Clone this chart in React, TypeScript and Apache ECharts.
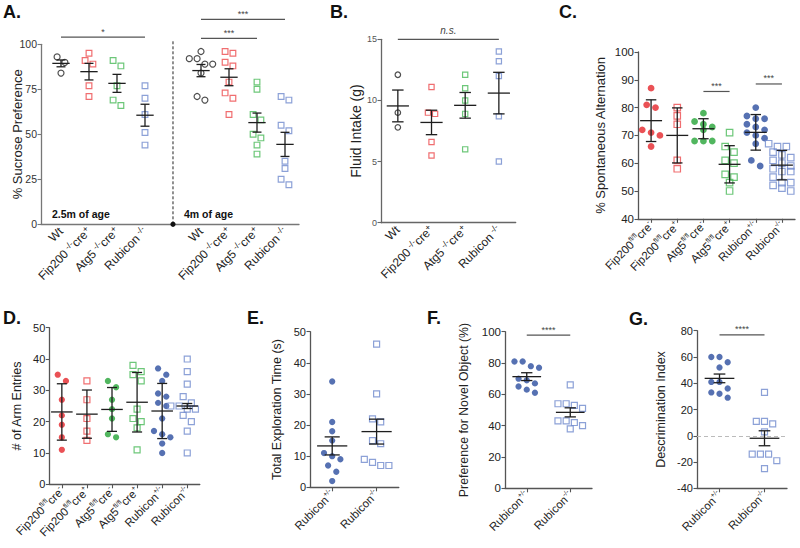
import React, { useEffect, useRef } from 'react';
import * as echarts from 'echarts';

const FONT = '"Liberation Sans", Arial, Helvetica, sans-serif';

// ---------- Panel A : % Sucrose Preference ----------
const aCategories = ['Wt', 'Fip200^{ -/-}cre^{+}', 'Atg5^{ -/-}cre^{+}', 'Rubicon^{ -/-}', '', 'Wt', 'Fip200^{ -/-}cre^{+}', 'Atg5^{ -/-}cre^{+}', 'Rubicon^{ -/-}'];
const aWt25 = [93, 90, 84];
const aFip25 = [95, 91, 89, 77, 71];
const aAtg25 = [91, 88, 77, 69, 66];
const aRub25 = [77, 70, 61, 51, 44];
const aWt4 = [96, 92, 92, 89, 89, 84, 71, 69];
const aFip4 = [96, 95, 90, 88, 79, 73, 70, 61];
const aAtg4 = [79, 75, 61, 58, 50, 48, 44, 39];
const aRub4 = [71, 69, 55, 52, 35, 31, 25, 22];
const aMean = [89.4, 84.8, 78.3, 60.6, null, 85.4, 81.7, 56.5, 44.4];
const aSem = [1.9, 4.6, 5.0, 6.1, null, 3.4, 4.7, 5.3, 6.7];
const aSig = [[0, 3, 104], [5, 7, 103.3], [5, 8, 113.9]];
const aSigText = ['*', '***', '***'];
const aDivider = [[4, 0, 102.5]];

// ---------- Panel B : Fluid Intake ----------
const bCategories = ['Wt', 'Fip200^{ -/-}cre^{+}', 'Atg5^{ -/-}cre^{+}', 'Rubicon^{ -/-}'];
const bWt = [12.1, 9.0, 7.8];
const bFip = [11.1, 8.9, 9.0, 6.6, 5.5];
const bAtg = [12.1, 11.0, 10.0, 8.9, 6.0];
const bRub = [14.0, 13.2, 12.0, 8.7, 5.0];
const bMean = [9.55, 8.2, 9.6, 10.6];
const bSem = [1.3, 1.0, 1.05, 1.7];
const bSig = [[0, 3, 15]];
const bSigText = ['n.s.'];

// ---------- Panel C : % Spontaneous Alternation ----------
const cCategories = ['Fip200^{fl/fl}cre^{-}', 'Fip200^{fl/fl}cre^{+}', 'Atg5^{fl/fl}cre^{-}', 'Atg5^{fl/fl}cre^{+}', 'Rubicon^{+/-}', 'Rubicon^{-/-}'];
const cFipNeg = [87, 81, 80, 72, 71, 70, 66];
const cFipPos = [80, 77, 74, 61, 58];
const cAtgNeg = [78, 75, 74, 73, 72, 68, 68, 68];
const cAtgPos = [71, 66, 64, 61, 60, 56, 55, 53, 50];
const cRubHet = [80, 77, 76, 76, 74, 73, 72, 71, 70, 69, 67, 61, 59];
const cRubKo = [67, 66, 66, 66, 64, 63, 62, 61, 60, 59, 58, 57, 57, 55, 53, 53, 52, 51, 50];
const cMean = [75.3, 70.0, 72.4, 59.6, 71.1, 59.3];
const cSd = [7.5, 9.9, 3.6, 6.7, 6.4, 5.3];
const cSig = [[2, 3, 85.8], [4, 5, 88.5]];
const cSigText = ['***', '***'];

// ---------- Panel D : # of Arm Entries ----------
const dCategories = cCategories;
const dFipNeg = [35, 33, 27, 22, 19, 15, 11];
const dFipPos = [33, 27, 21, 17, 14];
const dAtgNeg = [33, 31, 27, 24, 21, 16, 15];
const dAtgPos = [38, 36, 35, 33, 24, 21, 20, 18, 11];
const dRubHet = [37, 35, 33, 29, 28, 26, 25, 21, 17, 16, 15, 13, 10];
const dRubKo = [40, 36, 32, 28, 26, 25, 25, 24, 24, 23, 22, 20, 17, 10];
const dMean = [23.1, 22.4, 23.9, 26.2, 23.4, 25.0];
const dSd = [9.0, 7.7, 7.0, 9.5, 8.8, 0.8];

// ---------- Panels E, F, G ----------
const rubCategories = ['Rubicon^{+/-}', 'Rubicon^{-/-}'];
const eHet = [34, 21, 18, 15, 11, 10, 9, 7, 5, 2];
const eKo = [46, 30, 22, 21, 15, 14, 9, 8, 7, 7];
const eMean = [13.3, 17.9];
const eSem = [2.9, 4.0];

const fHet = [81, 81, 78, 77, 70, 69, 67, 65, 63, 61];
const fKo = [66, 54, 54, 53, 51, 43, 43, 42, 40, 38];
const fMean = [71.3, 48.5];
const fSem = [2.5, 2.9];
const fSig = [[0, 1, 97.8]];
const fSigText = ['****'];

const gHet = [60, 60, 56, 52, 41, 41, 36, 33, 32, 29];
const gKo = [33, 11, 11, 9, 3, -14, -14, -14, -19, -25];
const gMean = [43.7, -1.9];
const gSem = [3.3, 5.7];
const gSig = [[0, 1, 76.8]];
const gSigText = ['****'];
const gRef = [0];

// ---------- colours ----------
const BLACK = '#222222';
const RED_F = '#e5262b';
const RED_O = '#ec4a4c';
const GREEN_F = '#25a437';
const GREEN_O = '#49b957';
const BLUE_F = '#2c4d9f';
const BLUE_O = '#6f8acd';

function toRich(s: string) {
  if (!s) return '';
  const parts: string[] = [];
  const re = /\^\{([^}]*)\}/g;
  let last = 0;
  let m: RegExpExecArray | null;
  while ((m = re.exec(s))) {
    if (m.index > last) parts.push(`{n|${s.slice(last, m.index)}}`);
    parts.push(`{s|${m[1]}}`);
    last = re.lastIndex;
  }
  if (last < s.length) parts.push(`{n|${s.slice(last)}}`);
  return parts.join('');
}

function swarm(vals: number[], unitPx: number, sizePx: number) {
  const idx = vals.map((_, i) => i).sort((a, b) => vals[b] - vals[a]);
  const off = new Array(vals.length).fill(0);
  let k = 0;
  while (k < idx.length) {
    const row = [idx[k]];
    let j = k + 1;
    while (j < idx.length && (vals[idx[k]] - vals[idx[j]]) * unitPx < sizePx * 1.15) {
      row.push(idx[j]);
      j++;
    }
    row.forEach((id, r) => {
      off[id] = (r - (row.length - 1) / 2) * sizePx * 1.3;
    });
    k = j;
  }
  return off;
}

type Group = { cat: number; values: number[]; kind: string; color: string };

const panels: any[] = [
  {
    grid: { left: 41, top: 44.3, width: 258, height: 180 },
    labelGrid: { left: 47, top: 44.3, width: 252, height: 180 },
    xMin: -0.714, xMax: 8.5,
    y: { min: 0, max: 100, interval: 25 },
    yName: '% Sucrose Preference', yNameGap: 17, yNameSize: 13,
    tickFont: 10.5, tickColor: '#333', axisColor: '#777', labelFont: 12, supRatio: 0.72, xTicks: false,
    categories: aCategories, size: 6, meanHalf: 0.31, capHalf: 0.16,
    groups: [
      { cat: 0, values: aWt25, kind: 'oc', color: BLACK },
      { cat: 1, values: aFip25, kind: 'os', color: RED_O },
      { cat: 2, values: aAtg25, kind: 'os', color: GREEN_O },
      { cat: 3, values: aRub25, kind: 'os', color: BLUE_O },
      { cat: 5, values: aWt4, kind: 'oc', color: BLACK },
      { cat: 6, values: aFip4, kind: 'os', color: RED_O },
      { cat: 7, values: aAtg4, kind: 'os', color: GREEN_O },
      { cat: 8, values: aRub4, kind: 'os', color: BLUE_O },
    ],
    means: aMean, errs: aSem, sig: aSig, sigText: aSigText, sigFont: 9,
  },
  {
    grid: { left: 381, top: 39.3, width: 134.7, height: 183.4 },
    xMin: -0.5, xMax: 3.5,
    y: { min: 0, max: 15, interval: 5 },
    yName: 'Fluid Intake (g)', yNameGap: 18, yNameSize: 14,
    tickFont: 9, tickColor: '#555', axisColor: '#666', labelFont: 12, supRatio: 0.72, xTicks: false,
    categories: bCategories, size: 5.5, meanHalf: 0.33, capHalf: 0.17,
    groups: [
      { cat: 0, values: bWt, kind: 'oc', color: BLACK },
      { cat: 1, values: bFip, kind: 'os', color: RED_O },
      { cat: 2, values: bAtg, kind: 'os', color: GREEN_O },
      { cat: 3, values: bRub, kind: 'os', color: BLUE_O },
    ],
    means: bMean, errs: bSem, sig: bSig, sigText: bSigText, sigFont: 10, sigItalic: true,
  },
  {
    grid: { left: 638, top: 52, width: 157, height: 166.8 },
    xMin: -0.5, xMax: 5.5,
    y: { min: 40, max: 100, interval: 10 },
    yName: '% Spontaneous Alternation', yNameGap: 31, yNameSize: 13,
    tickFont: 11.5, tickColor: '#222', axisColor: '#555', labelFont: 11.5, supRatio: 0.6, xTicks: true,
    categories: cCategories, size: 6.8, meanHalf: 0.42, capHalf: 0.2,
    groups: [
      { cat: 0, values: cFipNeg, kind: 'fc', color: RED_F },
      { cat: 1, values: cFipPos, kind: 'os', color: RED_O },
      { cat: 2, values: cAtgNeg, kind: 'fc', color: GREEN_F },
      { cat: 3, values: cAtgPos, kind: 'os', color: GREEN_O },
      { cat: 4, values: cRubHet, kind: 'fc', color: BLUE_F },
      { cat: 5, values: cRubKo, kind: 'os', color: BLUE_O },
    ],
    means: cMean, errs: cSd, sig: cSig, sigText: cSigText, sigFont: 9,
  },
  {
    grid: { left: 49.3, top: 327.7, width: 150.5, height: 156.6 },
    xMin: -0.5, xMax: 5.5,
    y: { min: 0, max: 50, interval: 10 },
    yName: '# of Arm Entries', yNameGap: 26, yNameSize: 12.5,
    tickFont: 11, tickColor: '#222', axisColor: '#555', labelFont: 11.5, supRatio: 0.6, xTicks: true,
    categories: dCategories, size: 6.3, meanHalf: 0.43, capHalf: 0.2,
    groups: [
      { cat: 0, values: dFipNeg, kind: 'fc', color: RED_F },
      { cat: 1, values: dFipPos, kind: 'os', color: RED_O },
      { cat: 2, values: dAtgNeg, kind: 'fc', color: GREEN_F },
      { cat: 3, values: dAtgPos, kind: 'os', color: GREEN_O },
      { cat: 4, values: dRubHet, kind: 'fc', color: BLUE_F },
      { cat: 5, values: dRubKo, kind: 'os', color: BLUE_O },
    ],
    means: dMean, errs: dSd, sig: [], sigText: [], sigFont: 9,
  },
  {
    grid: { left: 310, top: 331.7, width: 88.8, height: 155.6 },
    xMin: -0.5, xMax: 1.5,
    y: { min: 0, max: 50, interval: 10 },
    yName: 'Total Exploration Time (s)', yNameGap: 27, yNameSize: 12.5,
    tickFont: 11, tickColor: '#222', axisColor: '#555', labelFont: 11.5, supRatio: 0.6, xTicks: true,
    categories: rubCategories, size: 6.3, meanHalf: 0.34, capHalf: 0.17,
    groups: [
      { cat: 0, values: eHet, kind: 'fc', color: BLUE_F },
      { cat: 1, values: eKo, kind: 'os', color: BLUE_O },
    ],
    means: eMean, errs: eSem, sig: [], sigText: [], sigFont: 9,
  },
  {
    grid: { left: 505, top: 331.7, width: 87, height: 156.6 },
    xMin: -0.5, xMax: 1.5,
    y: { min: 0, max: 100, interval: 20 },
    yName: 'Preference for Novel Object (%)', yNameGap: 35, yNameSize: 12.3,
    tickFont: 11.5, tickColor: '#222', axisColor: '#555', labelFont: 11.5, supRatio: 0.6, xTicks: true,
    categories: rubCategories, size: 6.3, meanHalf: 0.33, capHalf: 0.13,
    groups: [
      { cat: 0, values: fHet, kind: 'fc', color: BLUE_F },
      { cat: 1, values: fKo, kind: 'os', color: BLUE_O },
    ],
    means: fMean, errs: fSem, sig: fSig, sigText: fSigText, sigFont: 9,
  },
  {
    grid: { left: 697, top: 330.7, width: 90, height: 157.6 },
    xMin: -0.5, xMax: 1.5,
    y: { min: -40, max: 80, interval: 20 },
    yName: 'Descrimination Index', yNameGap: 30, yNameSize: 12.5,
    tickFont: 11, tickColor: '#222', axisColor: '#555', labelFont: 11.5, supRatio: 0.6, xTicks: true,
    categories: rubCategories, size: 6.3, meanHalf: 0.33, capHalf: 0.13,
    groups: [
      { cat: 0, values: gHet, kind: 'fc', color: BLUE_F },
      { cat: 1, values: gKo, kind: 'os', color: BLUE_O },
    ],
    means: gMean, errs: gSem, sig: gSig, sigText: gSigText, sigFont: 9,
    refLine: gRef,
  },
];

function buildOption() {
  const grids: any[] = [];
  const xAxes: any[] = [];
  const yAxes: any[] = [];
  const series: any[] = [];

  panels.forEach((p, pi) => {
    const gi = grids.length;
    grids.push({ ...p.grid, containLabel: false });
    const axisLine = { show: true, onZero: false, lineStyle: { color: p.axisColor, width: 1.3 } };
    const yi = yAxes.length;
    yAxes.push({
      type: 'value', gridIndex: gi, position: 'left', min: p.y.min, max: p.y.max, interval: p.y.interval,
      axisLine: { show: true, onZero: false, lineStyle: { color: p.axisColor, width: 1.3 } },
      axisTick: { show: true, length: 3.5, lineStyle: { color: p.axisColor, width: 1.1 } },
      axisLabel: { fontSize: p.tickFont, color: p.tickColor, margin: 4, fontFamily: FONT },
      splitLine: { show: false },
      name: p.yName, nameLocation: 'middle', nameGap: p.yNameGap, nameMoveOverlap: false,
      nameTextStyle: { fontSize: p.yNameSize, color: '#222', fontFamily: FONT },
    });
    const xv = xAxes.length;
    xAxes.push({
      type: 'value', gridIndex: gi, min: p.xMin, max: p.xMax,
      position: p.labelGrid ? 'bottom' : 'top',
      show: !!p.labelGrid,
      axisLine: { ...axisLine, show: !!p.labelGrid },
      axisTick: { show: false }, axisLabel: { show: false }, splitLine: { show: false },
    });
    let lgi = gi;
    if (p.labelGrid) {
      lgi = grids.length;
      grids.push({ ...p.labelGrid, containLabel: false });
      yAxes.push({ type: 'value', gridIndex: lgi, show: false, min: 0, max: 1 });
    }
    const fs = p.labelFont;
    xAxes.push({
      type: 'category', gridIndex: lgi, position: 'bottom', data: p.categories, boundaryGap: true,
      axisLine: { ...axisLine, show: !p.labelGrid },
      axisTick: { show: p.xTicks, alignWithLabel: true, length: 4, lineStyle: { color: p.axisColor, width: 1.1 } },
      axisLabel: {
        interval: 0, rotate: 45, margin: 5,
        formatter: (v: string) => toRich(v),
        rich: {
          n: { fontSize: fs, fontFamily: FONT, color: '#222', lineHeight: fs + 3 },
          s: { fontSize: Math.round(fs * p.supRatio * 10) / 10, fontFamily: FONT, color: '#222', verticalAlign: 'top' },
        },
      },
      splitLine: { show: false },
    });

    const unitPx = p.grid.height / (p.y.max - p.y.min);
    const bandPx = p.grid.width / (p.xMax - p.xMin);

    p.groups.forEach((g: Group, k: number) => {
      const off = swarm(g.values, unitPx, p.size);
      const open = g.kind.startsWith('o');
      const s: any = {
        type: 'scatter', xAxisIndex: xv, yAxisIndex: yi, z: 2, silent: true,
        symbol: g.kind.endsWith('c') ? 'circle' : 'rect',
        symbolSize: g.kind === 'os' ? p.size * 0.95 : p.size,
        itemStyle: open
          ? { color: 'rgba(255,255,255,0)', borderColor: g.color, borderWidth: 1.2 }
          : { color: g.color, borderWidth: 0 },
        data: g.values.map((v, i) => [g.cat + off[i] / bandPx, v]),
      };
      if (k === 0 && p.refLine) {
        s.markLine = {
          silent: true, symbol: 'none', label: { show: false },
          lineStyle: { type: [4, 3], color: '#bbbbbb', width: 1.2 },
          data: p.refLine.map((v: number) => ({ yAxis: v })),
        };
      }
      series.push(s);
    });

    const mh = p.meanHalf;
    const ch = p.capHalf;
    series.push({
      type: 'custom', xAxisIndex: xv, yAxisIndex: yi, z: 4, silent: true, clip: false,
      encode: { x: 0, y: [1, 2, 3] },
      data: p.means
        .map((m: number | null, i: number) => (m == null ? null : [i, m, m - p.errs[i], m + p.errs[i]]))
        .filter((d: any) => d),
      renderItem: (params: any, api: any) => {
        const x = api.value(0);
        const c = api.coord([x, api.value(1)]);
        const lo = api.coord([x, api.value(2)]);
        const hi = api.coord([x, api.value(3)]);
        const band = api.size([1, 0])[0];
        const st = { stroke: '#1e1e1e', lineWidth: 1.3 };
        return {
          type: 'group',
          children: [
            { type: 'line', shape: { x1: c[0] - band * mh, y1: c[1], x2: c[0] + band * mh, y2: c[1] }, style: st },
            { type: 'line', shape: { x1: c[0], y1: lo[1], x2: c[0], y2: hi[1] }, style: st },
            { type: 'line', shape: { x1: c[0] - band * ch, y1: lo[1], x2: c[0] + band * ch, y2: lo[1] }, style: st },
            { type: 'line', shape: { x1: c[0] - band * ch, y1: hi[1], x2: c[0] + band * ch, y2: hi[1] }, style: st },
          ],
        };
      },
    });

    if (p.sig.length) {
      const texts = p.sigText;
      series.push({
        type: 'custom', xAxisIndex: xv, yAxisIndex: yi, z: 4, silent: true, clip: false,
        data: p.sig,
        renderItem: (params: any, api: any) => {
          const a = api.coord([api.value(0), api.value(2)]);
          const b = api.coord([api.value(1), api.value(2)]);
          return {
            type: 'group',
            children: [
              { type: 'line', shape: { x1: a[0], y1: a[1], x2: b[0], y2: b[1] }, style: { stroke: '#555', lineWidth: 1.2 } },
              {
                type: 'text', x: (a[0] + b[0]) / 2, y: a[1] - (p.sigItalic ? 4 : 1),
                style: {
                  text: texts[params.dataIndex], align: 'center', verticalAlign: 'bottom',
                  fontSize: p.sigFont, fontFamily: FONT, fill: '#444',
                  fontStyle: p.sigItalic ? 'italic' : 'normal',
                },
              },
            ],
          };
        },
      });
    }

    if (pi === 0) {
      series.push({
        type: 'custom', xAxisIndex: xv, yAxisIndex: yi, z: 3, silent: true, clip: false,
        data: aDivider,
        renderItem: (params: any, api: any) => {
          const b = api.coord([api.value(0), api.value(1)]);
          const t = api.coord([api.value(0), api.value(2)]);
          return {
            type: 'group',
            children: [
              { type: 'line', shape: { x1: b[0], y1: b[1], x2: t[0], y2: t[1] }, style: { stroke: '#222', lineWidth: 1, lineDash: [3, 2] } },
              { type: 'circle', shape: { cx: b[0], cy: b[1], r: 2.6 }, style: { fill: '#111' } },
            ],
          };
        },
      });
    }
  });

  const letter = (text: string, x: number, y: number) => ({
    type: 'text', x, y,
    style: { text, fontSize: 18, fontWeight: 'bold', fontFamily: FONT, fill: '#111', verticalAlign: 'middle' },
  });
  const note = (text: string, x: number, y: number) => ({
    type: 'text', x, y,
    style: { text, fontSize: 10.5, fontWeight: 'bold', fontFamily: FONT, fill: '#111', verticalAlign: 'middle' },
  });

  return {
    animation: false,
    backgroundColor: '#ffffff',
    textStyle: { fontFamily: FONT },
    grid: grids,
    xAxis: xAxes,
    yAxis: yAxes,
    series,
    graphic: [
      letter('A.', 3, 12), letter('B.', 330, 12), letter('C.', 559, 12),
      letter('D.', 3, 318), letter('E.', 247, 318), letter('F.', 427, 318), letter('G.', 629, 319),
      note('2.5m of age', 52, 213.5), note('4m of age', 184, 213.5),
    ],
  };
}

export default function App() {
  const ref = useRef<HTMLDivElement>(null);
  useEffect(() => {
    const chart = echarts.init(ref.current as HTMLDivElement, null, { renderer: 'svg' });
    chart.setOption(buildOption() as any);
    return () => chart.dispose();
  }, []);
  return (
    <div
      ref={ref}
      style={{ position: 'fixed', left: 0, top: 0, width: 800, height: 548, background: '#fff' }}
    />
  );
}
